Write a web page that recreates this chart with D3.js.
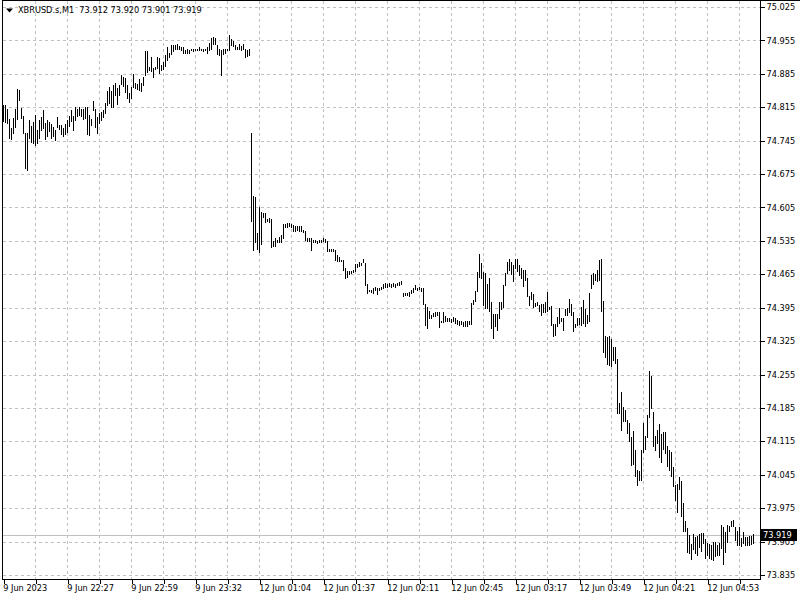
<!DOCTYPE html>
<html><head><meta charset="utf-8">
<script src="https://cdn.jsdelivr.net/npm/d3@7"></script>
<style>
html,body{margin:0;padding:0;background:#fff;}
svg{display:block;}
text{font-family:"DejaVu Sans",sans-serif;font-size:8.2px;fill:#000;}
</style></head>
<body>
<script>
// ---- data ----
const symbol = "XBRUSD.s,M1";
const lastOHLC = ["73.912", "73.920", "73.901", "73.919"];
const lastPrice = 73.919;

const highs = [
74.820,74.820,74.811,74.790,74.771,74.792,74.812,74.853,74.851,74.813,
74.797,74.761,74.761,74.789,74.775,74.785,74.799,74.768,74.789,74.794,
74.809,74.783,74.789,74.785,74.780,74.773,74.768,74.794,74.778,74.778,
74.771,74.780,74.789,74.796,74.809,74.796,74.815,74.811,74.815,74.812,
74.811,74.815,74.815,74.799,74.790,74.828,74.812,74.794,74.802,74.806,
74.809,74.823,74.849,74.858,74.849,74.862,74.865,74.855,74.862,74.883,
74.879,74.876,74.862,74.844,
74.857,74.884,74.865,74.864,74.874,74.865,74.879,74.932,74.933,74.900,
74.920,74.897,74.899,74.920,74.918,74.904,74.909,74.925,74.942,74.929,
74.946,74.946,74.946,74.948,74.943,74.941,74.942,74.934,74.938,74.935,
74.938,74.937,74.938,74.938,74.942,74.938,74.936,74.937,74.942,74.949,
74.960,74.962,74.960,74.946,74.936,74.934,74.936,74.937,74.937,74.967,
74.958,74.953,74.946,74.942,74.948,74.943,74.948,74.938,74.934,74.938,
74.762,74.630,74.626,74.551,74.607,74.595,74.593,74.593,74.581,74.582,
74.581,74.535,74.540,74.537,74.544,74.547,74.570,74.570,74.573,74.572,
74.570,74.568,74.567,74.567,74.567,74.567,74.558,74.556,74.542,74.542,
74.540,74.537,74.537,74.535,74.537,74.537,74.540,74.539,74.535,74.518,
74.518,74.518,74.516,74.505,74.502,74.495,74.495,74.479,74.471,74.471,
74.472,74.474,74.486,74.486,74.490,74.488,74.497,74.488,74.444,74.432,
74.432,74.437,74.439,74.437,74.436,
74.439,74.444,74.446,74.444,74.446,74.444,74.446,74.444,74.446,74.448,
74.450,74.425,74.425,74.425,74.427,74.432,74.436,74.443,74.437,74.439,
74.436,74.437,74.402,74.397,74.388,74.380,74.383,74.385,74.387,74.387,
74.368,74.385,74.378,74.374,74.373,74.371,74.376,74.373,74.369,74.367,
74.367,74.366,74.367,74.367,74.367,74.404,74.411,74.429,74.470,74.507,
74.488,74.470,74.467,74.444,74.458,74.406,74.381,74.381,74.381,74.406,
74.406,74.443,74.467,
74.491,74.496,74.491,74.484,74.498,74.496,74.484,74.478,74.474,74.473,
74.457,74.420,74.427,74.424,74.404,74.406,74.401,74.403,74.403,74.406,
74.427,74.396,74.399,74.361,74.361,74.376,74.394,74.373,74.373,74.392,
74.394,74.413,74.403,74.385,74.361,74.373,74.373,74.396,74.411,74.392,
74.380,74.425,74.464,74.468,74.466,74.473,74.494,74.496,74.410,74.336,
74.333,74.336,74.329,74.313,74.312,74.287,74.196,74.219,74.188,74.181,
74.160,74.154,74.125,
74.137,74.096,74.054,74.052,74.097,74.154,74.126,74.170,74.263,74.252,
74.177,74.126,74.139,74.151,74.130,74.135,74.135,74.105,74.096,74.093,
74.062,74.024,74.026,74.040,74.031,73.985,73.949,73.933,73.919,73.900,
73.921,73.915,73.917,73.921,73.922,73.922,73.910,73.903,73.900,73.898,
73.905,73.905,73.898,73.903,73.940,73.935,73.926,73.940,73.938,73.949,
73.950,73.935,73.928,73.935,73.912,73.926,73.915,73.915,73.917,73.917,73.920
];

const lows = [
74.787,74.785,74.783,74.750,74.748,74.761,74.773,74.790,74.830,74.792,
74.762,74.687,74.684,74.750,74.743,74.740,74.736,74.740,74.750,74.768,
74.771,74.748,74.755,74.766,74.750,74.755,74.747,74.773,74.769,74.759,
74.754,74.759,74.764,74.776,74.787,74.768,74.789,74.797,74.799,74.797,
74.790,74.792,74.759,74.757,74.777,74.809,74.773,74.762,74.783,74.788,
74.794,74.802,74.820,74.823,74.816,74.815,74.841,74.822,74.841,74.864,
74.860,74.846,74.834,74.825,
74.834,74.857,74.855,74.853,74.851,74.850,74.862,74.883,74.888,74.893,
74.890,74.878,74.895,74.897,74.886,74.893,74.895,74.902,74.913,74.920,
74.927,74.932,74.937,74.938,74.936,74.934,74.928,74.929,74.928,74.928,
74.934,74.932,74.935,74.934,74.935,74.934,74.932,74.934,74.929,74.934,
74.936,74.948,74.948,74.927,74.925,74.883,74.927,74.929,74.934,74.935,
74.946,74.943,74.937,74.936,74.938,74.935,74.936,74.920,74.922,74.925,
74.577,74.516,74.533,74.518,74.511,74.528,74.586,74.575,74.577,74.575,
74.523,74.525,74.525,74.533,74.533,74.533,74.542,74.565,74.565,74.567,
74.565,74.556,74.556,74.558,74.556,74.556,74.554,74.537,74.535,74.535,
74.516,74.533,74.532,74.530,74.532,74.532,74.535,74.533,74.514,74.514,
74.514,74.514,74.495,74.493,74.492,74.492,74.474,74.457,74.460,74.465,
74.467,74.469,74.472,74.481,74.483,74.485,74.490,74.443,74.425,74.429,
74.427,74.425,74.432,74.423,74.432,
74.434,74.436,74.439,74.439,74.441,74.439,74.441,74.439,74.443,74.443,
74.444,74.420,74.422,74.422,74.420,74.425,74.427,74.434,74.432,74.434,
74.429,74.402,74.359,74.353,74.374,74.374,74.378,74.378,74.380,74.355,
74.365,74.366,74.367,74.367,74.367,74.366,74.367,74.364,74.360,74.359,
74.360,74.357,74.357,74.357,74.360,74.360,74.402,74.409,74.429,74.460,
74.457,74.401,74.394,74.395,74.388,74.352,74.332,74.357,74.348,74.374,
74.392,74.397,74.443,
74.468,74.475,74.466,74.450,74.478,74.471,74.464,74.457,74.441,74.454,
74.420,74.401,74.413,74.397,74.399,74.401,74.389,74.380,74.387,74.385,
74.389,74.392,74.359,74.336,74.338,74.357,74.364,74.368,74.348,74.380,
74.380,74.387,74.380,74.347,74.354,74.359,74.361,74.359,74.364,74.357,
74.362,74.368,74.436,74.445,74.452,74.450,74.452,74.389,74.303,74.291,
74.277,74.275,74.273,74.286,74.279,74.174,74.174,74.139,74.158,74.158,
74.132,74.115,74.066,
74.068,74.042,74.024,74.035,74.035,74.093,74.100,74.124,74.165,74.184,
74.105,74.097,74.111,74.083,74.072,74.100,74.091,74.063,74.055,74.042,
74.022,73.992,73.966,74.015,73.959,73.928,73.928,73.884,73.881,73.868,
73.889,73.882,73.877,73.894,73.886,73.903,73.870,73.877,73.870,73.868,
73.867,73.874,73.877,73.877,73.891,73.858,73.884,73.905,73.928,73.938,
73.938,73.908,73.898,73.898,73.896,73.901,73.898,73.898,73.898,73.900,73.901
];

const priceTicks = [75.025,74.955,74.885,74.815,74.745,74.675,74.605,74.535,74.465,
  74.395,74.325,74.255,74.185,74.115,74.045,73.975,73.905,73.835];

const timeLabels = ["9 Jun 2023","9 Jun 22:27","9 Jun 22:59","9 Jun 23:32",
  "12 Jun 01:04","12 Jun 01:37","12 Jun 02:11","12 Jun 02:45",
  "12 Jun 03:17","12 Jun 03:49","12 Jun 04:21","12 Jun 04:53"];

// ---- layout ----
const W = 800, H = 600;
const plotLeft = 2.5, plotRight = 760.5, plotTop = 0.5, plotBottom = 579.5;
const labelEvery = 32, gridEvery = 16;

const svg = d3.select("body").append("svg").attr("width", W).attr("height", H);

const n = highs.length;
const x = d3.scaleLinear().domain([0, n - 1]).range([3.5, 3.5 + 2 * (n - 1)]);
const y = d3.scaleLinear().domain([73.835, 75.025]).range([575, 7]);
const py = v => Math.round(y(v)) + 0.5;

// grid
const gridG = svg.append("g").attr("stroke", "#c0c0c0").attr("stroke-dasharray", "3,3")
  .attr("shape-rendering", "crispEdges");
gridG.selectAll("line.h").data(priceTicks).join("line")
  .attr("x1", plotLeft).attr("x2", plotRight)
  .attr("y1", d => py(d)).attr("y2", d => py(d));
const gridIdx = d3.range(gridEvery, n + gridEvery * 2, gridEvery).filter(i => x(i) < plotRight - 1);
gridG.selectAll("line.v").data(gridIdx).join("line")
  .attr("x1", d => x(d)).attr("x2", d => x(d))
  .attr("y1", plotTop).attr("y2", plotBottom);

// current price line
svg.append("line").attr("x1", plotLeft).attr("x2", plotRight)
  .attr("y1", py(lastPrice)).attr("y2", py(lastPrice))
  .attr("stroke", "#c0c0c0").attr("shape-rendering", "crispEdges");

// bars
svg.append("g").attr("stroke", "#000").attr("stroke-width", 1).attr("shape-rendering", "crispEdges")
  .selectAll("line").data(d3.range(n)).join("line")
  .attr("x1", i => x(i)).attr("x2", i => x(i))
  .attr("y1", i => Math.round(y(highs[i])))
  .attr("y2", i => Math.max(Math.round(y(lows[i])) + 1, Math.round(y(highs[i])) + 1));

// frame
const frame = svg.append("g").attr("stroke", "#000").attr("shape-rendering", "crispEdges");
frame.append("line").attr("x1", plotLeft).attr("x2", plotLeft).attr("y1", 0).attr("y2", plotBottom);
frame.append("line").attr("x1", plotLeft).attr("x2", W).attr("y1", plotTop).attr("y2", plotTop);
frame.append("line").attr("x1", plotRight).attr("x2", plotRight).attr("y1", 0).attr("y2", plotBottom);
frame.append("line").attr("x1", plotLeft).attr("x2", plotRight).attr("y1", plotBottom).attr("y2", plotBottom);

// right price axis
const yAxis = d3.axisRight(y).tickValues(priceTicks).tickFormat(d3.format(".3f")).tickSize(4).tickPadding(2);
const ya = svg.append("g").attr("transform", `translate(${plotRight},0)`).call(yAxis);
ya.select(".domain").remove();
ya.selectAll(".tick line").attr("stroke", "#000").attr("shape-rendering", "crispEdges");
ya.selectAll(".tick text").attr("font-family", "DejaVu Sans").attr("font-size", 8.2).attr("fill", "#000");

// bottom time axis
const tickIdx = d3.range(0, n, gridEvery);
const xAxis = d3.axisBottom(x).tickValues(tickIdx)
  .tickFormat(i => i % labelEvery === 0 ? timeLabels[i / labelEvery] || "" : "")
  .tickSize(4).tickPadding(2);
const xa = svg.append("g").attr("transform", `translate(0,${plotBottom})`).call(xAxis);
xa.select(".domain").remove();
xa.selectAll(".tick line").attr("stroke", "#000").attr("shape-rendering", "crispEdges");
xa.selectAll(".tick text").attr("text-anchor", "start").attr("dx", "-0.8")
  .attr("font-family", "DejaVu Sans").attr("font-size", 8.2).attr("fill", "#000");

// last price label
const ly = y(lastPrice);
svg.append("rect").attr("x", 761).attr("y", Math.round(ly) - 6).attr("width", 36).attr("height", 12).attr("fill", "#000");
svg.append("text").attr("x", 763).attr("y", ly).attr("dy", "0.35em").style("fill", "#fff")
  .text(d3.format(".3f")(lastPrice));

// header
svg.append("path").attr("d", "M6,8.5 L13,8.5 L9.5,12.5 Z").attr("fill", "#000");
svg.append("text").attr("x", 18).attr("y", 10.5).attr("dy", "0.35em")
  .style("white-space", "pre").attr("font-size", 8.6)
  .text(symbol + "  " + lastOHLC.join(" "));
</script>
</body></html>
